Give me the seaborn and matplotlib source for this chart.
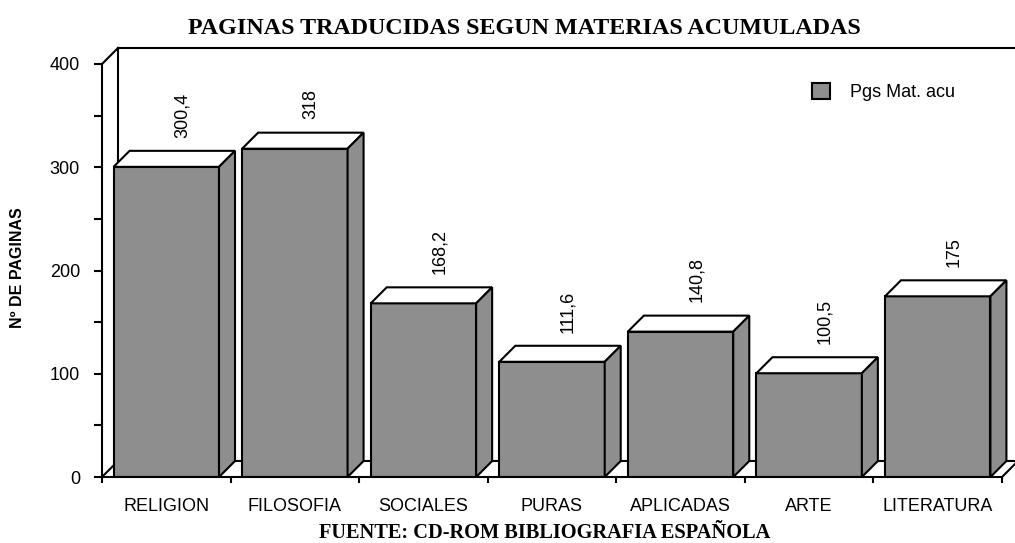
import pandas as pd
import matplotlib
matplotlib.use("Agg")
import matplotlib.pyplot as plt
import seaborn as sns
from matplotlib.patches import Polygon, Patch
from matplotlib.ticker import MultipleLocator, FixedLocator

# data
materias = ["RELIGION", "FILOSOFIA", "SOCIALES", "PURAS", "APLICADAS", "ARTE", "LITERATURA"]
paginas = [300.4, 318, 168.2, 111.6, 140.8, 100.5, 175]
etiquetas = ["300,4", "318", "168,2", "111,6", "140,8", "100,5", "175"]
serie = "Pgs Mat. acu"

df = pd.DataFrame({"materia": materias, "paginas": paginas})

sns.set_theme(style="white")
plt.rcParams["font.family"] = ["Liberation Sans", "DejaVu Sans"]
plt.rcParams["text.color"] = "black"

gris = "#8e8e8e"
lw = 1.5

W, H = 1015, 543
fig = plt.figure(figsize=(W / 100, H / 100), dpi=100)
ax = fig.add_axes([102 / W, (H - 477) / H, 900 / W, 413 / H])

sns.barplot(data=df, x="materia", y="paginas", color=gris, saturation=1,
            width=0.82, edgecolor="black", linewidth=lw, ax=ax, zorder=3)

n = len(materias)
ax.set_xlim(-0.5, n - 0.5)
ax.set_ylim(0, 400)

# depth of the fake 3D effect (16 px right, 16 px up)
dx = 16 / (900 / n)
dy = 16 / (413 / 400)

for s in ax.spines.values():
    s.set_visible(False)

def line(xs, ys, z=1):
    ax.plot(xs, ys, color="black", lw=lw, clip_on=False, zorder=z,
            solid_capstyle="projecting")

x0, x1 = -0.5, n - 0.5
# left wall / axis
line([x0, x0], [0, 400])
line([x0, x0 + dx], [400, 400 + dy])
line([x0, x0 + dx], [0, dy])
line([x0 + dx, x0 + dx], [dy, 400 + dy])
line([x0 + dx, x1 + dx + 0.2], [400 + dy, 400 + dy])
# floor
line([x0, x1], [0, 0], z=4)
line([x0 + dx, x1 + dx], [dy, dy])
line([x1, x1 + dx], [0, dy])

# top and side faces of each bar
for bar, txt in zip(ax.patches, etiquetas):
    bx, bw, bh = bar.get_x(), bar.get_width(), bar.get_height()
    top = Polygon([(bx, bh), (bx + dx, bh + dy), (bx + bw + dx, bh + dy), (bx + bw, bh)],
                  closed=True, facecolor="white", edgecolor="black", lw=lw,
                  zorder=3, clip_on=False)
    side = Polygon([(bx + bw, 0), (bx + bw + dx, dy), (bx + bw + dx, bh + dy), (bx + bw, bh)],
                   closed=True, facecolor=gris, edgecolor="black", lw=lw,
                   zorder=3, clip_on=False)
    ax.add_patch(top)
    ax.add_patch(side)
    ax.annotate(txt, (bx + bw / 2, bh), xytext=(11.5, 21), textcoords="offset points",
                rotation=90, ha="center", va="bottom", fontsize=13, color="black")

# ticks
ax.yaxis.set_major_locator(MultipleLocator(100))
ax.yaxis.set_minor_locator(MultipleLocator(50))
ax.tick_params(axis="y", which="both", left=True, length=5.8, width=lw, color="black",
               direction="out", pad=10, labelsize=13, labelcolor="black")
ax.xaxis.set_minor_locator(FixedLocator([i - 0.5 for i in range(n + 1)]))
ax.tick_params(axis="x", which="major", bottom=True, length=0, pad=15,
               labelsize=13, labelcolor="black")
ax.tick_params(axis="x", which="minor", bottom=True, length=4.3, width=lw,
               color="black", direction="out")

ax.set_xlabel("")
ax.set_ylabel("")
fig.text(18 / W, 1 - 268 / H, "Nº DE PAGINAS", rotation=90, ha="center", va="center",
         fontsize=11.5, fontweight="bold", color="black")
fig.text(524 / W, 1 - 28 / H, "PAGINAS TRADUCIDAS SEGUN MATERIAS ACUMULADAS",
         ha="center", va="center", fontsize=17.3, fontweight="bold",
         family="Liberation Serif", color="black")
fig.text(545 / W, 1 - 533 / H, "FUENTE: CD-ROM BIBLIOGRAFIA ESPAÑOLA",
         ha="center", va="center", fontsize=14.7, fontweight="bold",
         family="Liberation Serif", color="black")

handle = Patch(facecolor=gris, edgecolor="black", linewidth=lw)
leg = fig.legend([handle], [serie], loc="center left", bbox_to_anchor=(812 / W, 1 - 92 / H),
                 frameon=False, fontsize=13, handlelength=1.0, handleheight=1.0,
                 handletextpad=1.1, borderpad=0, borderaxespad=0)
for t in leg.get_texts():
    t.set_color("black")

fig.savefig("out.png", dpi=100)
